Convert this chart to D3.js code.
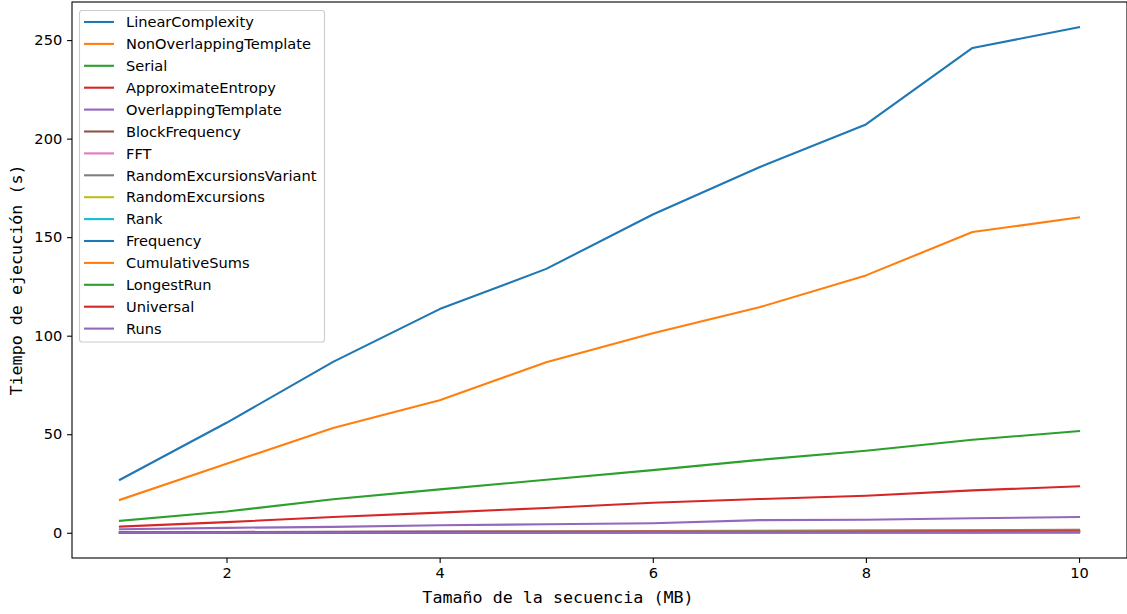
<!DOCTYPE html>
<html>
<head>
<meta charset="utf-8">
<script src="https://cdn.jsdelivr.net/npm/d3@7/dist/d3.min.js"></script>
<style>
  html, body { margin: 0; padding: 0; background: #ffffff; }
  svg { display: block; }
</style>
</head>
<body>
<svg id="chart" width="1127" height="614"></svg>
<script>
// Sequence sizes (MB)
const sizes = [1, 2, 3, 4, 5, 6, 7, 8, 9, 10];

// Test names, in plotting order
const testNames = [
  "LinearComplexity", "NonOverlappingTemplate", "Serial", "ApproximateEntropy",
  "OverlappingTemplate", "BlockFrequency", "FFT", "RandomExcursionsVariant",
  "RandomExcursions", "Rank", "Frequency", "CumulativeSums", "LongestRun",
  "Universal", "Runs"
];

// Execution time (s) per test and size
const linearComplexity       = [26.9, 55.8, 86.7, 113.5, 133.9, 161.5, 185.5, 207.2, 246.0, 256.5];
const nonOverlappingTemplate = [16.7, 35.0, 53.2, 67.2, 86.5, 101.2, 114.4, 130.6, 152.6, 160.0];
const serial                 = [6.1, 10.8, 17.0, 22.0, 26.9, 31.8, 37.0, 41.6, 47.2, 51.6];
const approximateEntropy     = [3.1, 5.4, 8.0, 10.2, 12.6, 15.2, 17.1, 18.8, 21.5, 23.6];
const overlappingTemplate    = [1.8, 2.5, 3.0, 3.8, 4.3, 4.8, 6.4, 6.6, 7.4, 8.0];
const blockFrequency         = [0.25, 0.4, 0.5, 0.65, 0.8, 0.9, 1.05, 1.15, 1.3, 1.45];
const fft                    = [0.15, 0.3, 0.4, 0.5, 0.6, 0.75, 0.8, 0.95, 1.05, 1.15];
const randomExcursionsVar    = [0.2, 0.3, 0.4, 0.45, 0.55, 0.65, 0.7, 0.8, 0.9, 0.95];
const randomExcursions       = [0.15, 0.25, 0.35, 0.4, 0.5, 0.55, 0.65, 0.7, 0.8, 0.85];
const rank                   = [0.1, 0.15, 0.2, 0.3, 0.35, 0.4, 0.45, 0.5, 0.55, 0.6];
const frequency              = [0.02, 0.04, 0.05, 0.07, 0.08, 0.1, 0.11, 0.12, 0.14, 0.15];
const cumulativeSums         = [0.05, 0.1, 0.12, 0.17, 0.2, 0.25, 0.28, 0.32, 0.36, 0.4];
const longestRun             = [0.03, 0.05, 0.08, 0.1, 0.12, 0.15, 0.17, 0.2, 0.22, 0.25];
const universal              = [0.1, 0.18, 0.25, 0.33, 0.4, 0.48, 0.55, 0.62, 0.7, 0.78];
const runs                   = [0.04, 0.07, 0.1, 0.13, 0.15, 0.18, 0.21, 0.24, 0.27, 0.3];

const seriesValues = [
  linearComplexity, nonOverlappingTemplate, serial, approximateEntropy,
  overlappingTemplate, blockFrequency, fft, randomExcursionsVar,
  randomExcursions, rank, frequency, cumulativeSums, longestRun,
  universal, runs
];

const xTicks = [2, 4, 6, 8, 10];
const yTicks = [0, 50, 100, 150, 200, 250];

const palette = ["#1f77b4", "#ff7f0e", "#2ca02c", "#d62728", "#9467bd",
                 "#8c564b", "#e377c2", "#7f7f7f", "#bcbd22", "#17becf"];

const series = testNames.map((name, i) => ({
  name,
  color: palette[i % palette.length],
  points: sizes.map((s, j) => ({ x: s, y: seriesValues[i][j] }))
}));

// Plot area
const plot = { left: 72, top: 2, right: 1127, bottom: 558 };
const svg = d3.select("#chart");

// Autoscale with 5% padding on each side
const xExt = d3.extent(sizes);
const xPad = (xExt[1] - xExt[0]) * 0.05;
const allY = seriesValues.flat();
const yExt = d3.extent(allY);
const yPad = (yExt[1] - yExt[0]) * 0.05;

const x = d3.scaleLinear().domain([xExt[0] - xPad, xExt[1] + xPad]).range([plot.left, plot.right]);
const y = d3.scaleLinear().domain([yExt[0] - yPad, yExt[1] + yPad]).range([plot.bottom, plot.top]);

svg.append("defs").append("clipPath").attr("id", "plot-clip")
  .append("rect")
  .attr("x", plot.left).attr("y", plot.top)
  .attr("width", plot.right - plot.left).attr("height", plot.bottom - plot.top);

// Lines
const line = d3.line().x(d => x(d.x)).y(d => y(d.y));
const linesG = svg.append("g").attr("clip-path", "url(#plot-clip)");
series.forEach(s => {
  linesG.append("path")
    .datum(s.points)
    .attr("d", line)
    .attr("fill", "none")
    .attr("stroke", s.color)
    .attr("stroke-width", 2.1)
    .attr("stroke-linejoin", "round")
    .attr("stroke-linecap", "square");
});

// Axes
const tickFont = "DejaVu Sans, sans-serif";
const smallSize = "14.6px";
const xAxis = d3.axisBottom(x).tickValues(xTicks).tickSize(4.9).tickPadding(4.9).tickFormat(d3.format("d"));
const yAxis = d3.axisLeft(y).tickValues(yTicks).tickSize(4.9).tickPadding(4.9).tickFormat(d3.format("d"));

const gx = svg.append("g").attr("transform", `translate(0,${plot.bottom})`).call(xAxis);
const gy = svg.append("g").attr("transform", `translate(${plot.left},0)`).call(yAxis);
[gx, gy].forEach(g => {
  g.select(".domain").remove();
  g.selectAll(".tick line").attr("stroke", "#000").attr("stroke-width", 1.1);
  g.selectAll(".tick text").attr("fill", "#000")
    .style("font-family", tickFont).style("font-size", smallSize);
});

// Spines
svg.append("rect")
  .attr("x", plot.left).attr("y", plot.top)
  .attr("width", plot.right - plot.left).attr("height", plot.bottom - plot.top)
  .attr("fill", "none").attr("stroke", "#000").attr("stroke-width", 1.1);

// Axis labels
const monoFont = "DejaVu Sans Mono, monospace";
svg.append("text")
  .attr("x", 558).attr("y", 603)
  .attr("text-anchor", "middle")
  .style("font-family", monoFont).style("font-size", "16.7px")
  .attr("fill", "#000")
  .text("Tamaño de la secuencia (MB)");

svg.append("text")
  .attr("transform", `translate(22,${(plot.top + plot.bottom) / 2}) rotate(-90)`)
  .attr("text-anchor", "middle")
  .style("font-family", monoFont).style("font-size", "16.7px")
  .attr("fill", "#000")
  .text("Tiempo de ejecución (s)");

// Legend
const legend = svg.append("g");
legend.append("rect")
  .attr("x", 79.5).attr("y", 10.5).attr("width", 245).attr("height", 331.5)
  .attr("rx", 2.8).attr("ry", 2.8)
  .attr("fill", "#ffffff").attr("fill-opacity", 0.8)
  .attr("stroke", "#cccccc").attr("stroke-width", 1.1);

const rowStart = 22, rowStep = 21.9;
series.forEach((s, i) => {
  const cy = rowStart + i * rowStep;
  legend.append("line")
    .attr("x1", 84).attr("x2", 114).attr("y1", cy).attr("y2", cy)
    .attr("stroke", s.color).attr("stroke-width", 2.1);
  legend.append("text")
    .attr("x", 126).attr("y", cy)
    .attr("dy", "0.36em")
    .style("font-family", tickFont).style("font-size", smallSize)
    .attr("fill", "#000")
    .text(s.name);
});
</script>
</body>
</html>
